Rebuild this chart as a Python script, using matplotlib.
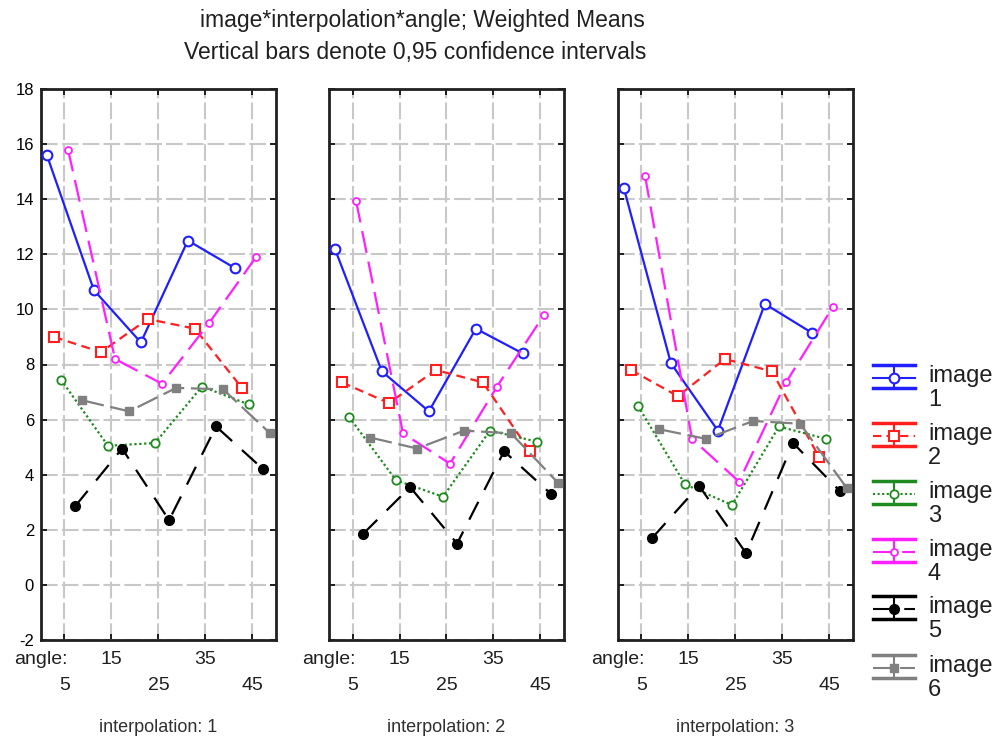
import numpy as np
import matplotlib
matplotlib.use('Agg')
import matplotlib.pyplot as plt

plt.rcParams['font.family'] = ['Liberation Sans', 'DejaVu Sans']
plt.rcParams['axes.unicode_minus'] = False

# ---- data (weighted means) ----
angles = ['5', '15', '25', '35', '45']
interpolations = ['1', '2', '3']
series_names = ['image\n1', 'image\n2', 'image\n3', 'image\n4', 'image\n5', 'image\n6']

# each list: interpolation 1, 2, 3 -> values for angle 5..45
image1 = [[15.6, 10.7, 8.8, 12.5, 11.5],
          [12.2, 7.75, 6.3, 9.3, 8.4],
          [14.4, 8.05, 5.6, 10.2, 9.15]]
image2 = [[9.0, 8.45, 9.65, 9.3, 7.15],
          [7.35, 6.6, 7.8, 7.35, 4.85],
          [7.8, 6.85, 8.2, 7.75, 4.65]]
image3 = [[7.45, 5.05, 5.15, 7.2, 6.55],
          [6.1, 3.8, 3.2, 5.6, 5.2],
          [6.5, 3.65, 2.9, 5.75, 5.3]]
image4 = [[15.8, 8.2, 7.3, 9.5, 11.9],
          [13.95, 5.5, 4.4, 7.2, 9.8],
          [14.85, 5.3, 3.75, 7.35, 10.1]]
image5 = [[2.85, 4.95, 2.35, 5.75, 4.2],
          [1.85, 3.55, 1.5, 4.85, 3.3],
          [1.7, 3.6, 1.15, 5.15, 3.4]]
image6 = [[6.7, 6.3, 7.15, 7.1, 5.5],
          [5.35, 4.95, 5.6, 5.5, 3.7],
          [5.65, 5.3, 5.95, 5.85, 3.5]]
all_series = [image1, image2, image3, image4, image5, image6]

# ---- styles ----
styles = [
    dict(color='#1f1fff', ls='-', marker='o', ms=7, mfc='white', mew=1.5),
    dict(color='#ff1f1f', ls=(0, (4, 2.5)), marker='s', ms=7, mfc='white', mew=1.5),
    dict(color='#1f8a1f', ls=(0, (1, 1.2)), marker='o', ms=6, mfc='white', mew=1.3),
    dict(color='#ff1fff', ls=(0, (10, 4)), marker='o', ms=5, mfc='white', mew=1.3),
    dict(color='black', ls=(0, (9, 6)), marker='o', ms=7, mfc='black', mew=1),
    dict(color='#808080', ls=(0, (10, 3)), marker='s', ms=6, mfc='#808080', mew=1),
]
offsets = np.linspace(-0.375, 0.375, 6)

W, H = 995, 744
fig = plt.figure(figsize=(W / 100, H / 100), dpi=100)

panel_left = [41, 329, 618]
panel_w = 235
top_px, bot_px = 89, 640


def fx(px):
    return px / W


def fy(px):
    return 1 - px / H


x = np.arange(len(angles))
for p in range(3):
    ax = fig.add_axes([fx(panel_left[p]), fy(bot_px), panel_w / W, (bot_px - top_px) / H])
    for s, (vals, st) in enumerate(zip(all_series, styles)):
        ax.plot(x + offsets[s], vals[p], lw=1.6, color=st['color'], ls=st['ls'],
                marker=st['marker'], ms=st['ms'], mfc=st['mfc'], mec=st['color'],
                mew=st['mew'], zorder=3)
    ax.set_xlim(-0.5, 4.5)
    ax.set_ylim(-2, 18)
    ax.set_yticks(np.arange(-2, 19, 2))
    ax.set_xticks(x)
    ax.grid(True, color='#c8c8c8', ls=(0, (8, 2)), lw=1.5, zorder=0)
    ax.tick_params(direction='in', length=4, width=1.2, top=True, right=True,
                   labelsize=12, colors='black', pad=5)
    ax.set_xticklabels([])
    if p > 0:
        ax.set_yticklabels([])
    for sp in ax.spines.values():
        sp.set_linewidth(2)
        sp.set_color('#202020')
    # staggered angle labels
    for i, lab in enumerate(angles):
        dy = -20 if i % 2 == 1 else -45
        ax.annotate(lab, xy=(i, 0), xycoords=('data', 'axes fraction'),
                    xytext=(0, dy), textcoords='offset pixels',
                    ha='center', va='center', fontsize=14, color='#202020')
    ax.annotate('angle:', xy=(0, 0), xycoords='axes fraction', xytext=(-27, -20),
                textcoords='offset pixels', ha='left', va='center', fontsize=14,
                color='#202020')
    fig.text(fx(panel_left[p] + panel_w / 2), fy(728), 'interpolation: ' + interpolations[p],
             ha='center', va='center', fontsize=13, color='#303030')

fig.text(fx(422), fy(20), 'image*interpolation*angle; Weighted Means',
         ha='center', va='center', fontsize=16.5, color='#202020')
fig.text(fx(415), fy(53), 'Vertical bars denote 0,95 confidence intervals',
         ha='center', va='center', fontsize=16.5, color='#202020')

# ---- legend drawn in its own pixel-coordinate axes ----
lax = fig.add_axes([fx(865), fy(720), (W - 865) / W, 400 / H])
lax.set_xlim(865, W)
lax.set_ylim(720, 320)
lax.axis('off')
entry_y = [378, 436, 494, 552, 609, 668]
for name, st, yc in zip(series_names, styles, entry_y):
    lax.plot([873, 915], [yc - 13, yc - 13], color=st['color'], lw=2.5)
    lax.plot([873, 915], [yc + 10, yc + 10], color=st['color'], lw=2.5)
    lax.plot([894, 894], [yc - 13, yc + 10], color=st['color'], lw=1.5)
    lax.plot([873, 915], [yc, yc], color=st['color'], ls=st['ls'], lw=1.5)
    lax.plot([894], [yc], marker=st['marker'], ms=st['ms'], mfc=st['mfc'],
             mec=st['color'], mew=st['mew'])
    lab1, lab2 = name.split('\n')
    lax.text(928, yc - 2, lab1, ha='left', va='center', fontsize=17, color='#202020')
    lax.text(928, yc + 22, lab2, ha='left', va='center', fontsize=17, color='#202020')

fig.savefig('out.png', dpi=100, facecolor='white')
